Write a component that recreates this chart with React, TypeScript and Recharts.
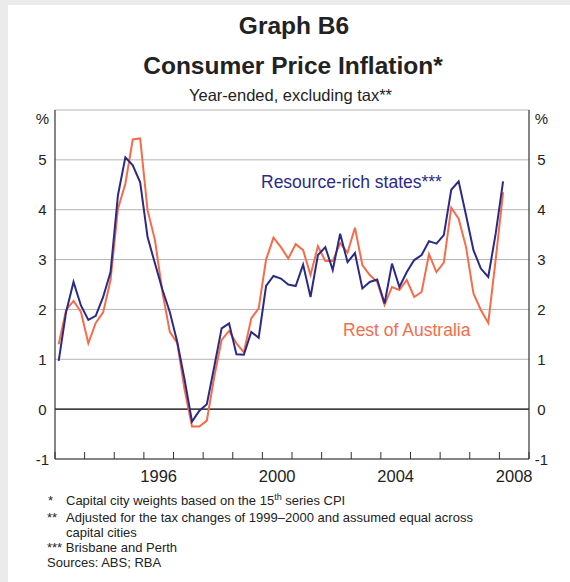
import React from "react";
import { LineChart, Line, XAxis, YAxis, CartesianGrid, ReferenceLine } from "recharts";

// ---------- data ----------
const years: number[] = [1993, 1994, 1995, 1996, 1997, 1998, 1999, 2000, 2001, 2002, 2003, 2004, 2005, 2006, 2007, 2008];
const quarterNums: number[] = [1, 2, 3, 4];
const quarters: string[] = years.flatMap((y) => quarterNums.map((q) => `${y} Q${q}`)).slice(0, 61);

const resourceRich: number[] = [
  0.97, 1.95, 2.55, 2.08, 1.79, 1.87, 2.25, 2.75,
  4.29, 5.05, 4.89, 4.55, 3.45, 2.92, 2.4, 1.95,
  1.35, 0.59, -0.25, -0.03, 0.1, 0.85, 1.62, 1.72,
  1.1, 1.09, 1.55, 1.43, 2.47, 2.67, 2.62, 2.5,
  2.47, 2.9, 2.25, 3.09, 3.25, 2.79, 3.52, 2.95,
  3.13, 2.42, 2.55, 2.6, 2.12, 2.92, 2.45, 2.75,
  2.99, 3.09, 3.37, 3.32, 3.49, 4.4, 4.57, 3.89,
  3.19, 2.82, 2.65, 3.52, 4.57,
];

const restOfAustralia: number[] = [
  1.3, 1.99, 2.17, 1.95, 1.32, 1.73, 1.94, 2.59,
  4.02, 4.52, 5.41, 5.43, 3.99, 3.39, 2.35, 1.55,
  1.33, 0.39, -0.35, -0.35, -0.23, 0.65, 1.39, 1.57,
  1.32, 1.14, 1.82, 2.02, 3.0, 3.44, 3.25, 3.02,
  3.31, 3.19, 2.69, 3.27, 2.97, 2.97, 3.33, 3.14,
  3.64, 2.89, 2.69, 2.55, 2.09, 2.45, 2.39, 2.59,
  2.25, 2.35, 3.11, 2.75, 2.94, 4.04, 3.82, 3.25,
  2.32, 1.99, 1.73, 3.0, 4.35,
];

const yTicks: number[] = [-1, 0, 1, 2, 3, 4, 5, 6];
const yearTicks: number[] = [1993, 1994, 1995, 1996, 1997, 1998, 1999, 2000, 2001, 2002, 2003, 2004, 2005, 2006, 2007, 2008, 2009];
const labelYears: number[] = [1996, 2000, 2004, 2008];

const data = quarters.map((label, i) => {
  const [y, q] = label.split(" Q");
  return {
    label,
    t: Number(y) + (Number(q) - 0.5) / 4,
    rich: resourceRich[i],
    rest: restOfAustralia[i],
  };
});

// ---------- layout ----------
const FONT = '"Liberation Sans", Arial, Helvetica, sans-serif';
const NAVY = "#2b2b86";
const ORANGE = "#f36d4c";
const CHART_W = 570;
const CHART_H = 500;
const PLOT_LEFT = 55;
const PLOT_RIGHT = 529;
const PLOT_TOP = 110;
const PLOT_BOTTOM = 459;
const Y_AXIS_W = 30;
const X_AXIS_H = 30;
const HALF_YEAR_PX = (PLOT_RIGHT - PLOT_LEFT) / (yearTicks.length - 1) / 2;

const YTick = (props: any) => {
  const { x, y, payload } = props;
  const isPct = payload.value === 6;
  return (
    <text
      x={x}
      y={y + (isPct ? 13.5 : 5.5)}
      textAnchor="middle"
      fontFamily={FONT}
      fontSize={15}
      fill="#222"
    >
      {isPct ? "%" : String(payload.value)}
    </text>
  );
};

const XTick = (props: any) => {
  const { x, y, payload } = props;
  const v = payload.value as number;
  return (
    <g>
      <line x1={x} x2={x} y1={y} y2={y - 7} stroke="#333" strokeWidth={1} />
      {labelYears.includes(v) ? (
        <text x={x + HALF_YEAR_PX} y={y + 23} textAnchor="middle" fontFamily={FONT} fontSize={16.5} fill="#222">
          {String(v)}
        </text>
      ) : null}
    </g>
  );
};

export default function App() {
  return (
    <div style={{ position: "absolute", left: 0, top: 0, width: 570, height: 582, background: "#ebebeb", overflow: "hidden" }}>
      <div style={{ position: "absolute", left: 8, top: 5, width: 562, height: 577, background: "#ffffff" }} />
      <div style={{ position: "absolute", left: 0, top: 0 }}>
        <LineChart
          width={CHART_W}
          height={CHART_H}
          data={data}
          margin={{
            top: PLOT_TOP,
            right: CHART_W - PLOT_RIGHT - Y_AXIS_W,
            bottom: CHART_H - PLOT_BOTTOM - X_AXIS_H,
            left: PLOT_LEFT - Y_AXIS_W,
          }}
        >
          <CartesianGrid yAxisId="left" horizontal={true} vertical={false} stroke="#b4b4b4" strokeWidth={1} />
          <XAxis
            dataKey="t"
            type="number"
            domain={[1993, 2009]}
            ticks={yearTicks}
            interval={0}
            height={X_AXIS_H}
            tickLine={false}
            tickSize={0}
            tickMargin={0}
            axisLine={{ stroke: "#333", strokeWidth: 1.2 }}
            tick={<XTick />}
          />
          <YAxis
            yAxisId="left"
            orientation="left"
            domain={[-1, 6]}
            ticks={yTicks}
            interval={0}
            width={Y_AXIS_W}
            tickLine={false}
            tickSize={0}
            tickMargin={12.5}
            axisLine={{ stroke: "#333", strokeWidth: 1.2 }}
            tick={<YTick />}
          />
          <YAxis
            yAxisId="right"
            orientation="right"
            domain={[-1, 6]}
            ticks={yTicks}
            interval={0}
            width={Y_AXIS_W}
            tickLine={false}
            tickSize={0}
            tickMargin={12.5}
            axisLine={{ stroke: "#333", strokeWidth: 1.2 }}
            tick={<YTick />}
          />
          <ReferenceLine yAxisId="left" y={0} stroke="#111" strokeWidth={1.2} />
          <Line
            yAxisId="right"
            type="linear"
            dataKey="rest"
            stroke={ORANGE}
            strokeWidth={2}
            dot={false}
            isAnimationActive={false}
          />
          <Line
            yAxisId="left"
            type="linear"
            dataKey="rich"
            stroke={NAVY}
            strokeWidth={2}
            dot={false}
            isAnimationActive={false}
          />
        </LineChart>
      </div>
      <svg
        width={570}
        height={582}
        style={{ position: "absolute", left: 0, top: 0, pointerEvents: "none" }}
        fontFamily={FONT}
      >
        <text x={294} y={34} textAnchor="middle" fontSize={24.5} fontWeight="bold" fill="#222">Graph B6</text>
        <text x={293} y={74} textAnchor="middle" fontSize={24.5} fontWeight="bold" fill="#222">Consumer Price Inflation*</text>
        <text x={290.5} y={101} textAnchor="middle" fontSize={16.5} fill="#222">Year-ended, excluding tax**</text>

        <text x={261} y={188} fontSize={17.5} fill={NAVY}>Resource-rich states***</text>
        <text x={343} y={336} fontSize={17.5} fill={ORANGE}>Rest of Australia</text>

        <text x={48} y={505} fontSize={13} fill="#222">*</text>
        <text x={66} y={505} fontSize={13} fill="#222">
          Capital city weights based on the 15
          <tspan fontSize={9} dy={-5}>th</tspan>
          <tspan dy={5}> series CPI</tspan>
        </text>
        <text x={47} y={522} fontSize={13} fill="#222">**</text>
        <text x={66} y={522} fontSize={13} fill="#222">Adjusted for the tax changes of 1999–2000 and assumed equal across</text>
        <text x={66} y={537} fontSize={13} fill="#222">capital cities</text>
        <text x={47} y={552} fontSize={13} fill="#222">*** Brisbane and Perth</text>
        <text x={47} y={567} fontSize={13} fill="#222">Sources: ABS; RBA</text>
      </svg>
    </div>
  );
}
